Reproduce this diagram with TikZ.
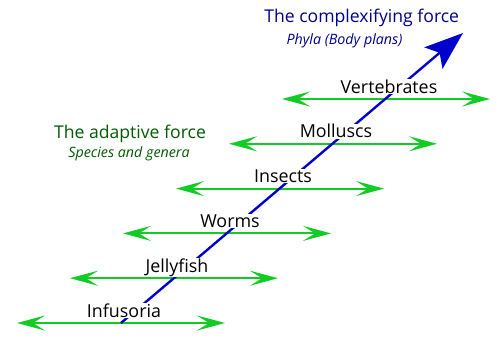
\documentclass[tikz,border=0pt]{standalone}
\usepackage{fontspec}
\setmainfont{Open Sans}
\usepackage{xcolor}
\usepackage{tikz}
\usetikzlibrary{arrows.meta}
\definecolor{rgreen}{HTML}{12CC25}
\definecolor{fblue}{HTML}{0000CC}
\definecolor{tnavy}{HTML}{000088}
\definecolor{tgreen}{HTML}{005A00}
\tikzset{
  % double-headed green rung, one per level
  rung/.style  = {{Stealth[length=21pt,width=11.25pt,inset=9pt]}-{Stealth[length=21pt,width=11.25pt,inset=9pt]},
                  line width=1.5pt, rgreen},
  force/.style = {-{Stealth[length=29pt,width=21pt,inset=6pt]}, line width=1.8pt, fblue},
  taxon/.style = {font=\fontsize{13.4}{15}\selectfont, fill=white, inner sep=0.5pt, anchor=base},
  head/.style  = {font=\fontsize{13.2}{15}\selectfont, anchor=base},
  sub/.style   = {font=\fontsize{10.7}{12}\selectfont\itshape, anchor=base},
}
\begin{document}
\begin{tikzpicture}[x=0.75pt,y=-0.75pt]
\useasboundingbox (0,0) rectangle (500,354);
% rung end points
\foreach \i in {0,...,5}{
  \coordinate (l\i) at ({17+53*\i},{323-44.8*\i});
  \coordinate (r\i) at ({225+53*\i},{323-44.8*\i});
  \coordinate (m\i) at ({121+53*\i},{323-44.8*\i});
}
\coordinate (tip) at (463,33);
% rungs
\foreach \i in {0,...,5}
  {\draw[rung] (l\i) -- (r\i);}
% complexifying force
\draw[force] (m0) -- (tip);
% taxa
\foreach \i/\name in {0/Infusoria,1/Jellyfish,2/Worms,3/Insects,4/Molluscs,5/Vertebrates}
  {\node[taxon] (t\i) at ([xshift=2.25pt,yshift=4.5pt]m\i) {\name};}
% titles
\node[head, text=tnavy]  (cplx)  at (361.7,22) {The complexifying force};
\node[sub,  text=tnavy]  (phyla) at (344.5,44) {Phyla (Body plans)};
\node[head, text=tgreen] (adapt) at (130,138)  {The adaptive force};
\node[sub,  text=tgreen] (spec)  at (129,157)  {Species and genera};
\end{tikzpicture}
\end{document}
